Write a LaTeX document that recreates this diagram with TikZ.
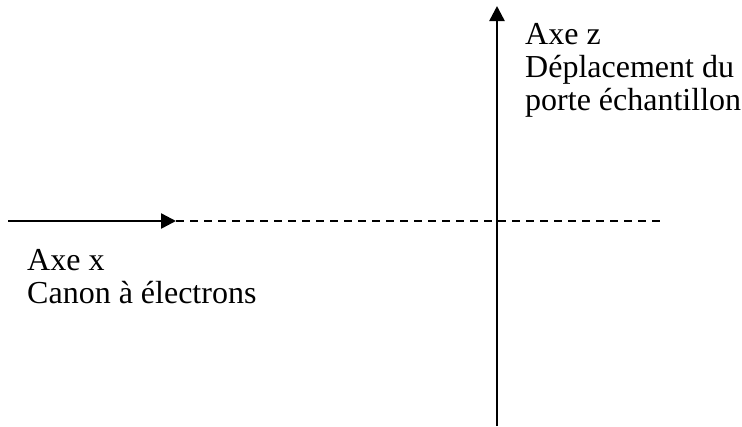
\documentclass[tikz,border=0pt]{standalone}
\usepackage{fontspec}
\setmainfont{Liberation Serif}
\usetikzlibrary{arrows.meta}
\tikzset{
  axisline/.style={line width=2.5bp, -{Triangle[length=15bp,width=15bp]}},
  guideline/.style={line width=2.5bp, dash pattern=on 8bp off 6bp},
  lbl/.style={anchor=base west, inner sep=0pt, font=\fontsize{32bp}{33bp}\selectfont}
}
\begin{document}
\begin{tikzpicture}[x=1bp,y=1bp]
\useasboundingbox (0,0) rectangle (742,-426);
\coordinate (xs) at (8,-221);
\coordinate (xt) at (176,-221);
\coordinate (xe) at (662,-221);
\coordinate (zs) at (497,-426);
\coordinate (zt) at (497,-6);
\draw[axisline] (xs) -- (xt);
\draw[guideline] (xt) -- (xe);
\draw[axisline] (zs) -- (zt);
\node[lbl] (z1) at (525,-44) {Axe z};
\node[lbl] (z2) at (525,-77) {Déplacement du};
\node[lbl] (z3) at (525,-110) {porte échantillon};
\node[lbl] (x1) at (27,-270) {Axe x};
\node[lbl] (x2) at (27,-303) {Canon à électrons};
\end{tikzpicture}
\end{document}
